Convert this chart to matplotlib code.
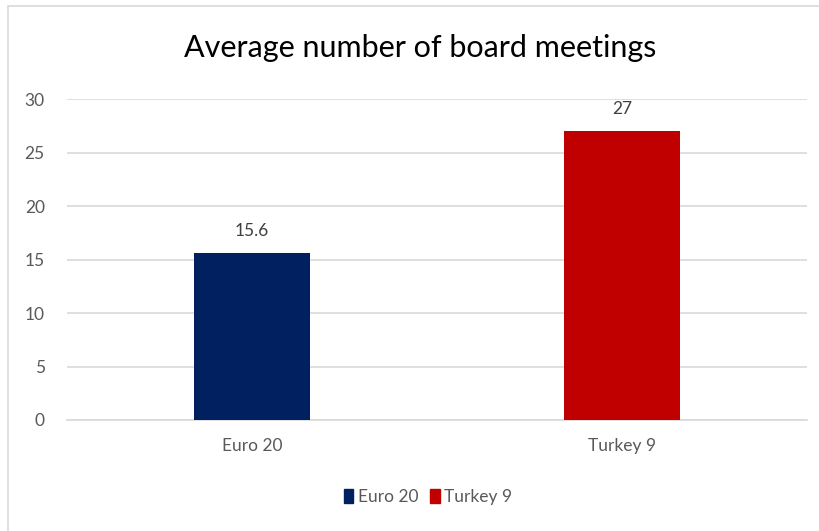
import matplotlib
matplotlib.use("Agg")
import matplotlib.pyplot as plt
from matplotlib.patches import Rectangle

plt.rcParams['font.family'] = ['Lato', 'DejaVu Sans']

categories = ["Euro 20", "Turkey 9"]
values = [15.6, 27]
colors = ["#002060", "#C00000"]
yticks = [0, 5, 10, 15, 20, 25, 30]

fig = plt.figure(figsize=(8.2, 5.31), dpi=100)
ax = fig.add_axes([67 / 820, 1 - 420 / 531, 740 / 820, 321 / 531])

# outer chart border
fig.patches.append(Rectangle((8 / 820, -0.01), 1.0, 1 - 6 / 531 + 0.01,
                             transform=fig.transFigure, fill=False,
                             edgecolor="#D9D9D9", linewidth=1.2))

x = range(len(categories))
bars = ax.bar(x, values, width=0.315, color=colors, zorder=3)
for b, v in zip(bars, values):
    ax.annotate(f"{v:g}", (b.get_x() + b.get_width() / 2, v),
                xytext=(0, 10), textcoords="offset points",
                ha="center", va="bottom", fontsize=12.5, color="#404040")

ax.set_xlim(-0.5, 1.5)
ax.set_ylim(0, 30)
ax.set_yticks(yticks)
ax.set_xticks(list(x))
ax.set_xticklabels(categories)
ax.yaxis.grid(True, color="#D9D9D9", linewidth=1.2, zorder=0)
for s in ["top", "right", "left"]:
    ax.spines[s].set_visible(False)
ax.spines["bottom"].set_color("#D9D9D9")
ax.spines["bottom"].set_linewidth(1.2)
ax.tick_params(axis="both", length=0, labelsize=12.5, colors="#595959")
ax.tick_params(axis="y", pad=16)
ax.tick_params(axis="x", pad=13)

fig.text(420 / 820, 1 - 48 / 531, "Average number of board meetings",
         ha="center", va="center", fontsize=22, color="#000000")

handles = [Rectangle((0, 0), 1, 1, color=c) for c in colors]
fig.legend(handles, categories, loc="center", bbox_to_anchor=(428 / 820, 1 - 497 / 531),
           ncol=2, frameon=False, fontsize=12.5, handlelength=0.55, handleheight=0.9,
           handletextpad=0.25, columnspacing=0.7, labelcolor="#595959")

fig.savefig("out.png", dpi=100)
